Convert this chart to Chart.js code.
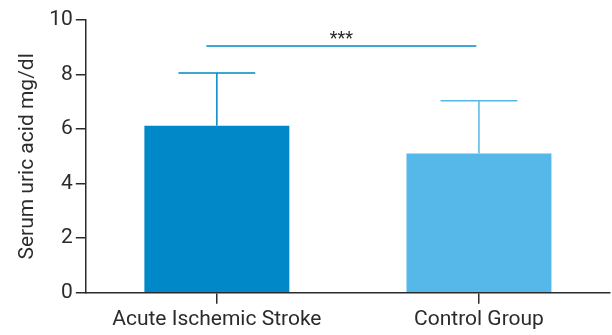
<!DOCTYPE html>
<html>
<head>
<meta charset="utf-8">
<script src="https://cdn.jsdelivr.net/npm/chart.js@4.4.0/dist/chart.umd.min.js"></script>
<style>
  html, body { margin: 0; padding: 0; background: #fff; }
  #wrap { width: 612px; height: 335px; }
</style>
</head>
<body>
<div id="wrap"><canvas id="uricChart"></canvas></div>
<script>
const groups = ['Acute Ischemic Stroke', 'Control Group'];
const means = [6.12, 5.11];
const sds = [1.94, 1.93];
const barColors = ['#0088c8', '#55b8e8'];
const yTicks = [0, 2, 4, 6, 8, 10];
const sigLevel = 9.05;
const sigSpan = [-0.04, 0.99];
const sigLabel = '***';

const ink = '#2b2b2b';

// error bars (upper only) + significance bracket
const extras = {
    id: 'extras',
    afterDatasetsDraw(chart) {
        const { ctx, scales } = chart;
        const meta = chart.getDatasetMeta(0);
        ctx.save();
        meta.data.forEach((bar, i) => {
            const top = scales.y.getPixelForValue(means[i] + sds[i]);
            const half = bar.width * 0.265;
            ctx.strokeStyle = barColors[i];
            ctx.lineWidth = 1.5;
            ctx.beginPath();
            ctx.moveTo(bar.x, bar.y);
            ctx.lineTo(bar.x, top);
            ctx.moveTo(bar.x - half, top);
            ctx.lineTo(bar.x + half, top);
            ctx.stroke();
        });

        const y = scales.y.getPixelForValue(sigLevel);
        const x1 = scales.x.getPixelForValue(sigSpan[0]);
        const x2 = scales.x.getPixelForValue(sigSpan[1]);
        ctx.strokeStyle = barColors[0];
        ctx.lineWidth = 1.5;
        ctx.beginPath();
        ctx.moveTo(x1, y);
        ctx.lineTo(x2, y);
        ctx.stroke();

        ctx.fillStyle = ink;
        ctx.font = '18px Roboto';
        ctx.textAlign = 'center';
        ctx.textBaseline = 'bottom';
        ctx.fillText(sigLabel, (x1 + x2) / 2, y + 3);
        ctx.restore();
    }
};

new Chart(document.getElementById('uricChart'), {
    type: 'bar',
    data: {
        labels: groups,
        datasets: [{
            data: means,
            backgroundColor: barColors,
            borderWidth: 0,
            barPercentage: 0.553,
            categoryPercentage: 1.0
        }]
    },
    options: {
        responsive: true,
        maintainAspectRatio: false,
        animation: false,
        layout: { padding: { top: 20, right: 2, left: 15, bottom: 0 } },
        plugins: {
            legend: { display: false },
            tooltip: { enabled: false }
        },
        scales: {
            x: {
                grid: { offset: false, drawOnChartArea: false, drawTicks: true, tickLength: 11, color: ink, lineWidth: 1.5 },
                border: { display: true, color: ink, width: 1.5 },
                ticks: { color: ink, font: { family: 'Roboto', size: 21 }, padding: 3, maxRotation: 0 }
            },
            y: {
                min: 0,
                max: 10,
                afterBuildTicks(axis) {
                    axis.ticks = yTicks.map(v => ({ value: v }));
                },
                grid: { drawOnChartArea: false, drawTicks: true, tickLength: 10, color: ink, lineWidth: 1.5 },
                border: { display: true, color: ink, width: 1.5 },
                ticks: { color: ink, font: { family: 'Roboto', size: 21 }, padding: 3 },
                title: {
                    display: true,
                    text: 'Serum uric acid mg/dl',
                    color: ink,
                    font: { family: 'Roboto', size: 21 },
                    padding: { top: 0, bottom: 6 }
                }
            }
        }
    },
    plugins: [extras]
});
</script>
</body>
</html>
